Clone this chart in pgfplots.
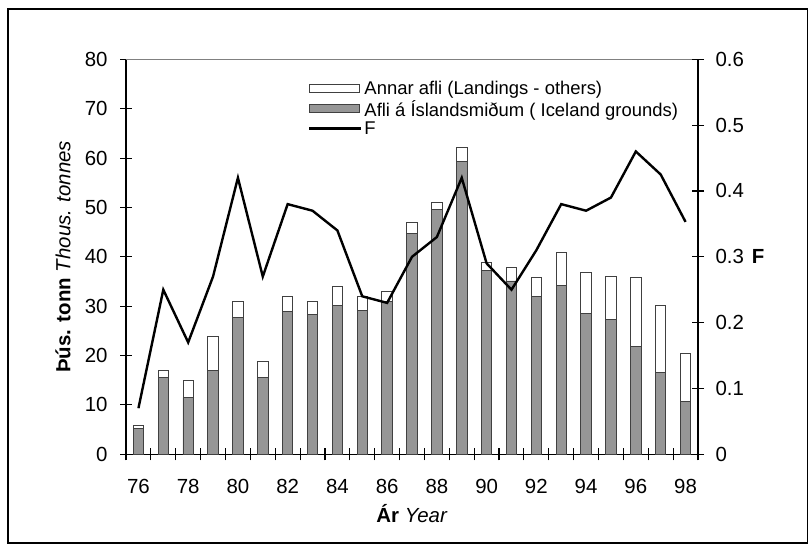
\documentclass[border=0pt]{standalone}
\usepackage{fontspec}
\setmainfont{Liberation Sans}
\usepackage{pgfplots}
\usepackage{pgfplotstable}
\pgfplotsset{compat=1.18}
\definecolor{bargrey}{HTML}{969696}
\definecolor{edgegrey}{HTML}{404040}

% x: category index, yr: year, grey: Iceland grounds, other: other landings, F
\pgfplotstableread{
x yr grey other F
0 76 5.2 0.6 0.07
1 77 15.6 1.3 0.25
2 78 11.5 3.4 0.17
3 79 16.9 6.9 0.27
4 80 27.8 3.1 0.42
5 81 15.6 3.3 0.27
6 82 28.9 3.0 0.38
7 83 28.4 2.5 0.37
8 84 30.1 3.8 0.34
9 85 29.2 2.7 0.24
10 86 30.9 2.0 0.23
11 87 44.8 2.1 0.30
12 88 49.6 1.4 0.33
13 89 59.4 2.7 0.42
14 90 37.3 1.5 0.29
15 91 35.1 2.7 0.25
16 92 32.0 3.9 0.31
17 93 34.1 6.8 0.38
18 94 28.5 8.3 0.37
19 95 27.3 8.8 0.39
20 96 21.9 13.9 0.46
21 97 16.6 13.6 0.425
22 98 10.7 9.7 0.353
}\catch

\pgfplotsset{
  base/.style={
    at={(126bp,89.7bp)}, anchor=south west,
    scale only axis, width=572bp, height=395bp,
    xmin=-0.5, xmax=22.5,
    clip=false,
    tick align=center,
    major tick length=12bp,
    tick style={line width=1.1bp, black},
    axis line style={line width=1.3bp},
    tick label style={font=\fontsize{20.5}{23}\selectfont},
    /pgf/number format/assume math mode=true,
  },
}

\begin{document}
\begin{tikzpicture}
\path[use as bounding box] (0bp,0bp) rectangle (811bp,544bp);
\draw[line width=1.3bp] (8bp,1bp) rectangle (807.7bp,535bp);

\begin{axis}[base,
  ymin=0, ymax=80,
  axis y line*=left, axis x line*=bottom,
  ytick={0,10,...,80},
  yticklabel style={xshift=-9bp},
  xtick={-0.5,0.5,...,22.5}, xticklabels={},
  extra x ticks={0,2,...,22},
  extra x tick labels={76,78,80,82,84,86,88,90,92,94,96,98},
  extra x tick style={major tick length=0pt, xticklabel style={yshift=-21bp}},
  ybar stacked, bar width=0.42,
  xlabel={\textbf{Ár} \textit{Year}},
  xlabel style={at={(axis description cs:0.5,-0.151)}, anchor=center, font=\fontsize{20.5}{23}\selectfont},
  ylabel={\textbf{Þús. tonn} \textit{Thous. tonnes}},
  ylabel style={at={(axis description cs:-0.110,0.5)}, anchor=center, font=\fontsize{20.5}{23}\selectfont},
]
\addplot[fill=bargrey, draw=edgegrey, line width=0.9bp] table[x=x, y=grey] {\catch};
\addplot[fill=white, draw=edgegrey, line width=0.9bp] table[x=x, y=other] {\catch};
\draw[gray, line width=1.3bp] (rel axis cs:0,1) -- (rel axis cs:1,1);
\end{axis}

\begin{axis}[base,
  ymin=0, ymax=0.6,
  axis y line*=right, axis x line=none,
  ytick={0,0.1,0.2,0.3,0.4,0.5,0.6},
  yticklabel style={/pgf/number format/fixed, /pgf/number format/precision=1, xshift=8bp},
  legend style={at={(0.318,0.95)}, anchor=north west, draw=none, fill=none,
    font=\fontsize{18.5}{20}\selectfont, inner sep=0pt},
  legend cell align=left,
]
\addlegendimage{legend image code/.code={\draw[fill=white, draw=edgegrey, line width=0.9bp] (0bp,-4bp) rectangle (50bp,4bp);}}
\addlegendentry{Annar afli (Landings - others)}
\addlegendimage{legend image code/.code={\draw[fill=bargrey, draw=edgegrey, line width=0.9bp] (0bp,-4bp) rectangle (50bp,4bp);}}
\addlegendentry{Afli á Íslandsmiðum ( Iceland grounds)}
\addplot[black, line width=2.4bp, mark=none, legend image code/.code={\draw[black, line width=2.4bp] (0bp,0bp) -- (52bp,0bp);}] table[x=x, y=F] {\catch};
\addlegendentry{F}
\node[anchor=west, font=\fontsize{20.5}{23}\selectfont\bfseries] at (axis description cs:1.088,0.5) {F};
\end{axis}
\end{tikzpicture}
\end{document}
